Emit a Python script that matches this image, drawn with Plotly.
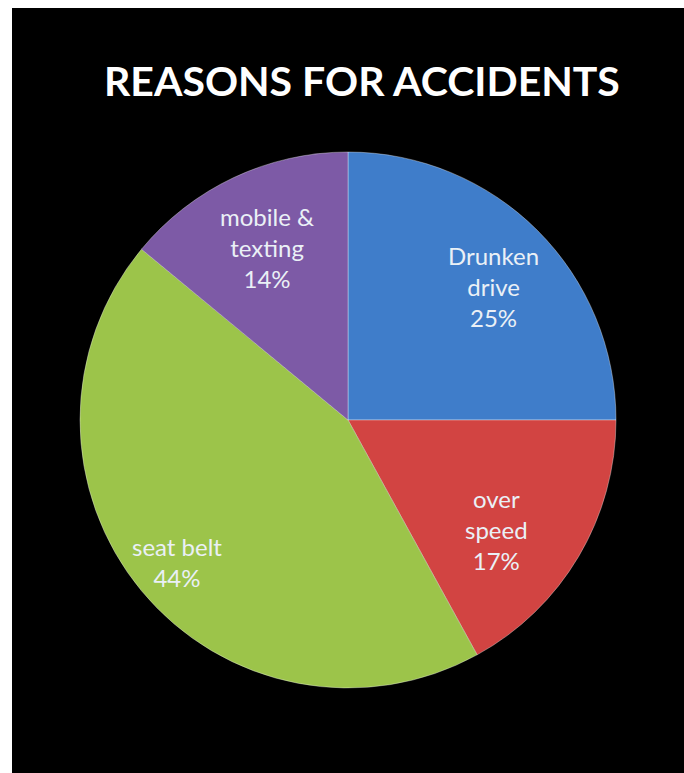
import math
import plotly.graph_objects as go

labels = ["Drunken<br>drive", "over<br>speed", "seat belt", "mobile &<br>texting"]
values = [25, 17, 44, 14]
colors = ["#3f7dca", "#d24442", "#9cc44a", "#7d5aa6"]
# label placement: fraction of the pie radius, and angular nudge (degrees, clockwise)
label_radius = [0.735, 0.69, 0.83, 0.71]
label_nudge = [2.5, 5.8, 0.0, 0.0]

W, H = 684, 773
cx, cy, R = 348, 420, 268

fig = go.Figure()
fig.add_trace(go.Pie(
    labels=labels,
    values=values,
    sort=False,
    direction="clockwise",
    rotation=0,
    marker=dict(colors=colors, line=dict(color="rgba(255,255,255,0.35)", width=1)),
    textinfo="none",
    hoverinfo="label+percent",
    domain=dict(x=[(cx - R) / W, (cx + R) / W], y=[1 - (cy + R) / H, 1 - (cy - R) / H]),
    showlegend=False,
))

annotations = [dict(text="<b>REASONS FOR ACCIDENTS</b>", x=362 / W, y=1 - 80 / H,
                    xref="paper", yref="paper", showarrow=False, xanchor="center", yanchor="middle",
                    font=dict(family="Lato, Open Sans, sans-serif", size=41, color="white"))]

total = sum(values)
cum = 0
for lab, v, rf, nd in zip(labels, values, label_radius, label_nudge):
    mid = (cum + v / 2) / total * 2 * math.pi + math.radians(nd)  # clockwise from top
    cum += v
    px = cx + rf * R * math.sin(mid)
    py = cy - rf * R * math.cos(mid)
    pct = round(v / total * 100)
    annotations.append(dict(
        text=f"{lab}<br>{pct}%", x=px / W, y=1 - py / H, xref="paper", yref="paper",
        showarrow=False, xanchor="center", yanchor="middle", align="center",
        font=dict(family="Lato, Open Sans, sans-serif", size=24, color="#eaf0f6"),
    ))

fig.update_layout(
    width=W, height=H,
    margin=dict(l=0, r=0, t=0, b=0),
    paper_bgcolor="white",
    shapes=[dict(type="rect", xref="paper", yref="paper", x0=12 / W, x1=1, y0=0, y1=1 - 8 / H,
                 fillcolor="black", line=dict(width=0), layer="below")],
    annotations=annotations,
)

fig.write_html(
    "out.html",
    config={"displayModeBar": False},
    post_script="document.body.style.margin='0';document.body.style.overflow='hidden';",
)
